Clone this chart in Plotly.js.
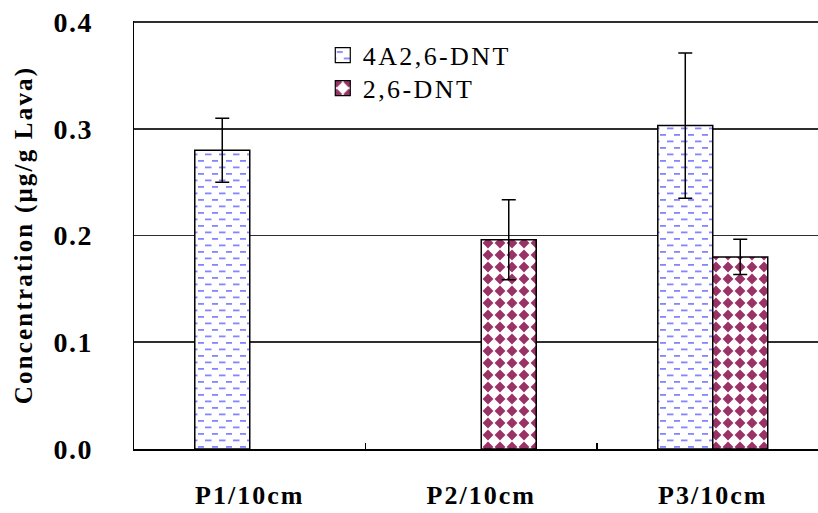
<!DOCTYPE html>
<html>
<head>
<meta charset="utf-8">
<script src="https://cdn.plot.ly/plotly-3.0.1.min.js"></script>
<style>
  html, body { margin: 0; padding: 0; background: #fff; }
  #chart { width: 818px; height: 513px; }
  #chart .xtick text { letter-spacing: 2px; }
  #chart .ytick text { letter-spacing: 1.5px; }
  #chart .ytitle { letter-spacing: 2.2px; }
  #chart .legendtext { letter-spacing: 2.4px; }
</style>
</head>
<body>
<div id="chart"></div>

<!-- Hatch fills used by the two series -->
<svg width="0" height="0" style="position:absolute;left:0;top:0">
  <defs>
    <pattern id="dashFill" patternUnits="userSpaceOnUse" width="14" height="13">
      <rect width="14" height="13" fill="#ffffff"/>
      <rect x="1" y="2.5" width="6.5" height="1.8" fill="#8585ff"/>
      <rect x="8" y="9" width="6.5" height="1.8" fill="#8585ff"/>
    </pattern>
    <pattern id="diamondFill" patternUnits="userSpaceOnUse" width="12" height="12">
      <rect width="12" height="12" fill="#ffffff"/>
      <polygon points="6,0.6 11.4,6 6,11.4 0.6,6" fill="#993366"/>
    </pattern>
  </defs>
</svg>

<script>
// Sampling positions and measured concentrations (µg/g Lava)
const categories = ['P1/10cm', 'P2/10cm', 'P3/10cm'];
const seriesNames = ['4A2,6-DNT', '2,6-DNT'];
const conc4A26DNT = [0.28, null, 0.303];
const err4A26DNT = [0.03, null, 0.068];
const conc26DNT = [null, 0.196, 0.18];
const err26DNT = [null, 0.0375, 0.0165];
const yTickVals = [0, 0.1, 0.2, 0.3, 0.4];
const yTickText = ['0.0', '0.1', '0.2', '0.3', '0.4'];

const serif = "'Liberation Serif', 'Times New Roman', Tinos, serif";

function barTrace(name, values, errors) {
  return {
    type: 'bar',
    name: name,
    x: categories,
    y: values,
    marker: { color: '#ffffff', line: { color: '#000000', width: 1.5 } },
    error_y: {
      type: 'data', array: errors, visible: true,
      color: '#000000', thickness: 1.5, width: 7
    },
    hoverinfo: 'x+y'
  };
}

const data = [
  barTrace(seriesNames[0], conc4A26DNT, err4A26DNT),
  barTrace(seriesNames[1], conc26DNT, err26DNT)
];

const layout = {
  width: 818,
  height: 513,
  margin: { l: 134, r: 0, t: 21, b: 64, pad: 0 },
  paper_bgcolor: '#ffffff',
  plot_bgcolor: '#ffffff',
  barmode: 'group',
  bargap: 0.525,
  bargroupgap: 0,
  font: { family: serif, color: '#000000' },
  xaxis: {
    type: 'category',
    range: [-0.5, 2.4546],
    showline: true, linecolor: '#000000', linewidth: 1.5,
    ticks: 'inside', tickson: 'boundaries', ticklen: 6, tickwidth: 1.5, tickcolor: '#000000',
    showgrid: false, zeroline: false,
    tickfont: { family: serif, size: 26, color: '#000000', weight: 'bold' },
    ticklabelstandoff: 22
  },
  yaxis: {
    range: [0, 0.401],
    tickvals: yTickVals, ticktext: yTickText,
    showline: true, linecolor: '#000000', linewidth: 1.5,
    ticks: '', showgrid: true, gridcolor: '#2e2e2e', gridwidth: 1.8,
    zeroline: false,
    tickfont: { family: serif, size: 28, color: '#000000', weight: 'bold' },
    ticklabelstandoff: 34,
    title: {
      text: 'Concentration (μg/g Lava)',
      font: { family: serif, size: 25, color: '#000000', weight: 'bold' },
      standoff: 18
    }
  },
  showlegend: true,
  legend: {
    x: 0.276, y: 0.975, xanchor: 'left', yanchor: 'top',
    bgcolor: 'rgba(0,0,0,0)', borderwidth: 0,
    font: { family: serif, size: 26, color: '#000000' },
    tracegroupgap: 0
  }
};

function applyFills(gd) {
  const fills = ['url(#dashFill)', 'url(#diamondFill)'];
  gd.querySelectorAll('.barlayer .trace.bars').forEach(function (g, i) {
    g.querySelectorAll('.points .point path').forEach(function (p) {
      p.style.fill = fills[i];
    });
  });
  // let the spaced-out legend labels run past the measured box
  gd.querySelectorAll('.legend [clip-path]').forEach(function (el) {
    el.removeAttribute('clip-path');
  });
  const rowStep = 33;
  let firstY = null;
  gd.querySelectorAll('.legend .traces').forEach(function (g, i) {
    const m = /translate\(([-\d.]+),\s*([-\d.]+)\)/.exec(g.getAttribute('transform') || '');
    if (m) {
      const x = parseFloat(m[1]);
      const y = parseFloat(m[2]);
      if (firstY === null) firstY = y;
      g.setAttribute('transform', 'translate(' + x + ',' + (firstY + i * rowStep) + ')');
    }
    g.querySelectorAll('.legendpoints path').forEach(function (p) {
      p.setAttribute('d', 'M7.5,7.5H-7.5V-7.5H7.5Z');
      p.style.fill = fills[i];
      p.style.stroke = '#000000';
      p.style.strokeWidth = '1.2px';
    });
  });
}

Plotly.newPlot('chart', data, layout, { displayModeBar: false, staticPlot: true })
  .then(applyFills);
</script>
</body>
</html>
